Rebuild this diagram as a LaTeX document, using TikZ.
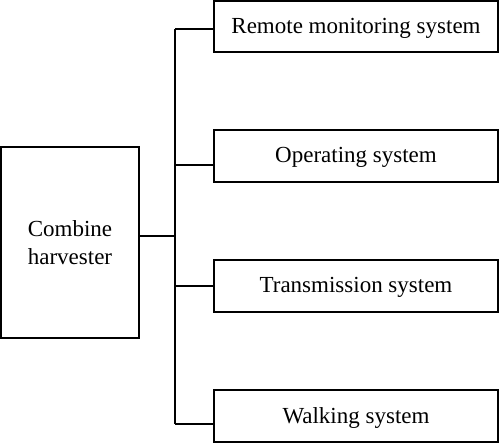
\documentclass[tikz,border=0pt]{standalone}
\usepackage{fontspec}
\setmainfont{Liberation Serif}
\begin{document}
\begin{tikzpicture}[x=1pt,y=-1pt,
  box/.style={draw, line width=1.3pt, inner sep=0pt, font=\fontsize{23}{28.3}\selectfont},
  sysbox/.style={box, minimum width=284pt, minimum height=52pt, text height=16pt, text depth=2pt},
  wire/.style={line width=1.3pt}]
\useasboundingbox (0,0) rectangle (500,443);
\node[box, minimum width=138pt, minimum height=191pt, align=center] (ch) at (70,242.5) {Combine\\harvester};
\node[sysbox, minimum height=51pt] (b1) at (356,26.5) {Remote monitoring system};
\node[sysbox] (b2) at (356,156) {Operating system};
\node[sysbox] (b3) at (356,286) {Transmission system};
\node[sysbox] (b4) at (356,416) {Walking system};
\coordinate (j1) at (175,29);
\coordinate (j2) at (175,165);
\coordinate (j0) at (175,236);
\coordinate (j3) at (175,286);
\coordinate (j4) at (175,424);
\draw[wire] (j1) -- (j4);
\draw[wire] (j0 -| ch.east) -- (j0);
\draw[wire] (j1) -- (j1 -| b1.west);
\draw[wire] (j2) -- (j2 -| b2.west);
\draw[wire] (j3) -- (j3 -| b3.west);
\draw[wire] (j4) -- (j4 -| b4.west);
\end{tikzpicture}
\end{document}
